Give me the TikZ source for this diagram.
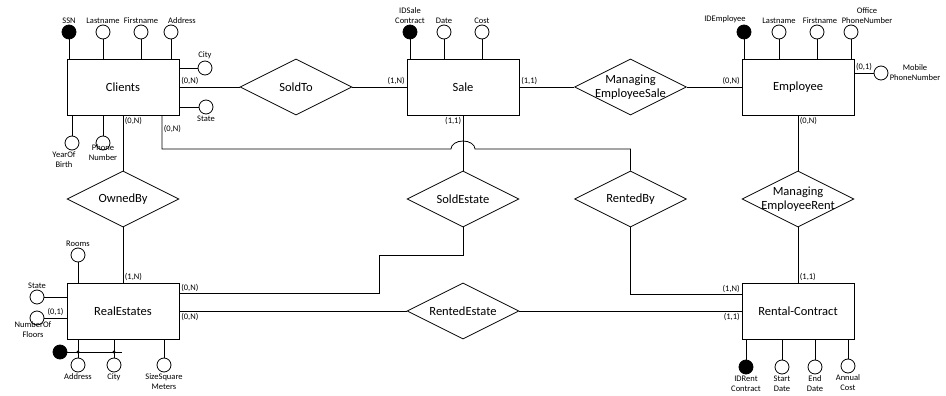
\documentclass[tikz,border=0pt]{standalone}
\usepackage{fontspec}
\setmainfont{Carlito}
\usetikzlibrary{positioning, shapes.geometric}

\begin{document}
\begin{tikzpicture}[x=1pt, y=-1pt,
    entity/.style={draw, rectangle, minimum width=112pt, minimum height=56pt, inner sep=0pt, font=\fontsize{12.5}{15}\selectfont},
    rel/.style={draw, diamond, minimum width=112pt, minimum height=56pt, inner sep=0pt},
    reltext/.style={font=\fontsize{12.5}{14.5}\selectfont, align=center, inner sep=0pt},
    attr/.style={draw, circle, minimum size=14pt, inner sep=0pt, fill=white},
    keyattr/.style={attr, fill=black},
    lbl/.style={font=\fontsize{8.5}{10}\selectfont, align=center, inner sep=1pt},
    card/.style={font=\fontsize{8.5}{10}\selectfont, inner sep=1.5pt},
    every label/.style={lbl},
    link/.style={draw, line width=0.8pt},
    every node/.append style={line width=0.8pt},
]
    \useasboundingbox (0,0) rectangle (946,396);

    % Entities
    \node[entity] (clients) at (123,87) {Clients};
    \node[entity] (sale) at (463,87) {Sale};
    \node[entity] (employee) at (798,87) {Employee};
    \node[entity] (realestates) at (123,311) {RealEstates};
    \node[entity] (rental) at (798,311) {Rental-Contract};

    % Relationships
    \node[rel, label={[reltext]center:SoldTo}] (soldto) at (296,87) {};
    \node[rel, label={[reltext]center:{Managing\\EmployeeSale}}] (mgsale) at (630.5,87) {};
    \node[rel, label={[reltext]center:OwnedBy}] (ownedby) at (123,199) {};
    \node[rel, label={[reltext]center:SoldEstate}] (soldestate) at (463,199) {};
    \node[rel, label={[reltext]center:RentedBy}] (rentedby) at (630.5,199) {};
    \node[rel, label={[reltext]center:{Managing\\EmployeeRent}}] (mgrent) at (798,199) {};
    \node[rel, label={[reltext]center:RentedEstate}] (rentedestate) at (463,311) {};

    % Links with cardinalities
    \draw[link] (clients) -- node[card, above right, pos=0] {(0,N)} (soldto);
    \draw[link] (soldto) -- node[card, above left, pos=1] {(1,N)} (sale);
    \draw[link] (sale) -- node[card, above right, pos=0] {(1,1)} (mgsale);
    \draw[link] (mgsale) -- node[card, above left, pos=1] {(0,N)} (employee);
    \draw[link] (clients) -- node[card, below right, pos=0] {(0,N)} (ownedby);
    \draw[link] (ownedby) -- node[card, above right, pos=1] {(1,N)} (realestates);
    \draw[link] (sale) -- node[card, below left, pos=0] {(1,1)} (soldestate);
    \draw[link] (employee) -- node[card, below right, pos=0] {(0,N)} (mgrent);
    \draw[link] (mgrent) -- node[card, above right, pos=1] {(1,1)} (rental);
    \draw[link] (realestates) -- node[card, below right, pos=0] {(0,N)} (rentedestate);
    \draw[link] (rentedestate) -- node[card, below left, pos=1] {(1,1)} (rental);

    % SoldEstate down to RealEstates
    \coordinate (seturn) at (379,255);
    \draw[link] (soldestate.south) |- (seturn) |- node[card, above right, pos=1] {(0,N)} ([yshift=-11pt]realestates.north east);

    % Clients over to RentedBy, hopping the Sale link
    \coordinate (hop) at (451,149);
    \draw[link] ([xshift=39pt]clients.south) -- node[card, below right, pos=0, yshift=-8pt] {(0,N)} ([xshift=39pt]clients.south |- hop)
        -- (hop) arc[start angle=180, end angle=0, x radius=12pt, y radius=8pt] -| (rentedby.north);

    % RentedBy down to Rental-Contract
    \draw[link] (rentedby.south) |- node[card, above left, pos=1] {(1,N)} ([yshift=16.5pt]rental.west);

    % Clients attributes
    \node[keyattr, label=above:SSN] (ssn) at (69,32) {};
    \node[attr, label=above:Lastname] (clast) at (103,32) {};
    \node[attr, label=above:Firstname] (cfirst) at (141,32) {};
    \node[attr, label={[xshift=11pt]above:Address}] (caddr) at (171,32) {};
    \node[attr, label=above:City] (ccity) at (205,68) {};
    \node[attr, label=below:State] (cstate) at (206,107) {};
    \node[attr, label={[xshift=-8pt]below:YearOf\\Birth}] (cyear) at (72,143) {};
    \node[attr, label={[label distance=-7pt]below:Phone\\Number}] (cphone) at (103,143) {};
    \foreach \a in {ssn, clast, cfirst, caddr}
        \draw[link] (\a) -- (\a |- clients.north);
    \foreach \a in {ccity, cstate}
        \draw[link] (\a) -- (\a -| clients.east);
    \foreach \a in {cyear, cphone}
        \draw[link] (\a) -- (\a |- clients.south);

    % Sale attributes
    \node[keyattr, label={above:IDSale\\Contract}] (sid) at (410,32) {};
    \node[attr, label=above:Date] (sdate) at (444,32) {};
    \node[attr, label=above:Cost] (scost) at (482,32) {};
    \foreach \a in {sid, sdate, scost}
        \draw[link] (\a) -- (\a |- sale.north);

    % Employee attributes
    \node[keyattr, label={[xshift=-19pt]above:IDEmployee}] (eid) at (744,32) {};
    \node[attr, label=above:Lastname] (elast) at (779,32) {};
    \node[attr, label={[xshift=3pt]above:Firstname}] (efirst) at (817,32) {};
    \node[attr, label={[xshift=16pt]above:Office\\PhoneNumber}] (eoffice) at (851,32) {};
    \node[attr, label={right:Mobile\\PhoneNumber}] (emobile) at (881,73) {};
    \foreach \a in {eid, elast, efirst, eoffice}
        \draw[link] (\a) -- (\a |- employee.north);
    \draw[link] (emobile) -- node[card, above] {(0,1)} (emobile -| employee.east);

    % RealEstates attributes
    \node[attr, label=above:Rooms] (rooms) at (78,255) {};
    \node[attr, label=above:State] (rstate) at (37,297) {};
    \node[attr, label={[label distance=-5pt, xshift=-4pt]below:NumberOf\\Floors}] (rfloors) at (37,318) {};
    \node[keyattr] (raddrkey) at (60,352) {};
    \node[attr, label=below:Address] (raddr) at (78,365) {};
    \node[attr, label=below:City] (rcity) at (114,365) {};
    \node[attr, label={below:SizeSquare\\Meters}] (rsize) at (164,365) {};
    \draw[link] (rooms) -- (rooms |- realestates.north);
    \draw[link] (rstate) -- (rstate -| realestates.west);
    \draw[link] (rfloors) -- node[card, above] {(0,1)} (rfloors -| realestates.west);
    \foreach \a in {raddr, rcity, rsize}
        \draw[link] (\a) -- (\a |- realestates.south);
    % composite key
    \coordinate (keyend) at (122,352);
    \draw[link] (raddrkey) -- (keyend);
    \foreach \a in {raddr, rcity}
        \fill (\a |- keyend) circle (1.6pt);

    % Rental-Contract attributes
    \node[keyattr, label={below:IDRent\\Contract}] (rcid) at (746,367) {};
    \node[attr, label={below:Start\\Date}] (rcstart) at (782,367) {};
    \node[attr, label={below:End\\Date}] (rcend) at (815,367) {};
    \node[attr, label={below:Annual\\Cost}] (rccost) at (848,366) {};
    \foreach \a in {rcid, rcstart, rcend, rccost}
        \draw[link] (\a) -- (\a |- rental.south);
\end{tikzpicture}
\end{document}
